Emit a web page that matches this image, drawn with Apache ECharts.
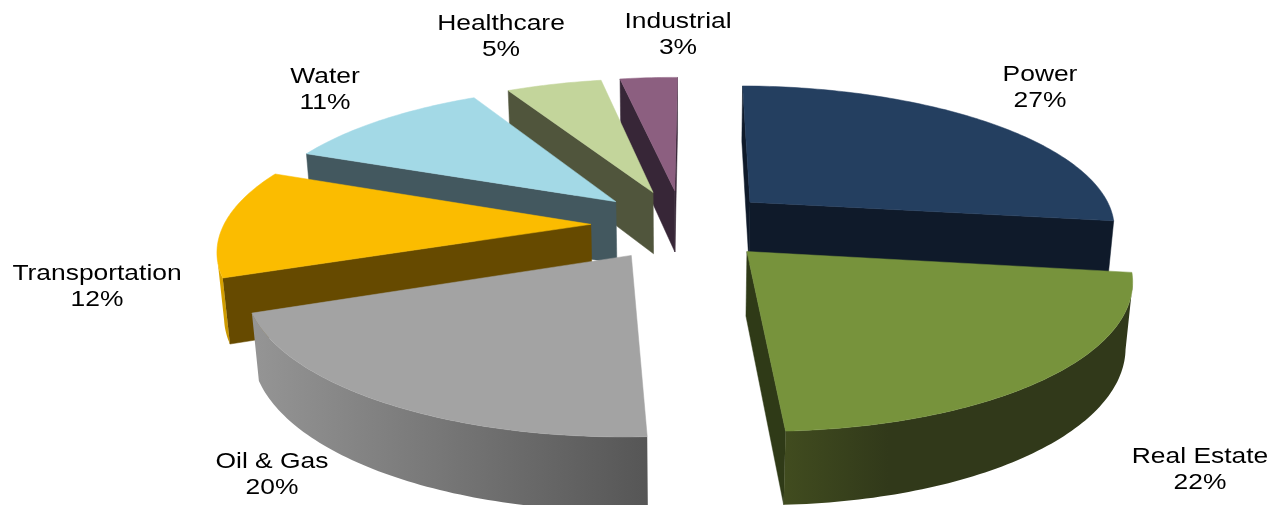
<!DOCTYPE html>
<html>
<head>
<meta charset="utf-8">
<style>html,body{margin:0;padding:0;background:#fff;overflow:hidden}#chart{width:1278px;height:505px}</style>
<script src="https://cdn.jsdelivr.net/npm/echarts@6/dist/echarts.min.js"></script>
</head>
<body>
<div id="chart"></div>
<script>
// Sector shares, clockwise from twelve o'clock
const sectors = ['Power', 'Real Estate', 'Oil & Gas', 'Transportation', 'Water', 'Healthcare', 'Industrial'];
const shares = [27, 22, 20, 12, 11, 5, 3];

// Colours per sector: top face, cut faces, rim gradient stops
const topColors = ['#243f60', '#77933c', '#a3a3a3', '#fbbc00', '#a3d9e6', '#c3d59b', '#8c5f80'];
const cutColors = ['#0f1a2a', '#2f3a17', '#5a5a5a', '#664a00', '#43585f', '#50553c', '#372637'];
const rimStops = [
  ['#0f1a2a', '#0f1a2a'], [['#414c1f', 0], ['#31391a', 0.3], ['#31391a', 1]], ['#959595', '#565656'],
  ['#e0a800', '#c49300'], ['#43585f', '#43585f'], ['#50553c', '#50553c'], ['#372637', '#372637']
];

// Label anchors in pixels (centre of the two-line block)
const labelAnchors = [[1040, 87.5], [1200, 469.5], [272, 474.5], [97, 286.5], [325, 90], [501, 37], [678, 35]];

// Back-to-front paint order
const paintOrder = [6, 5, 4, 3, 2, 0, 1];

// Camera model for the tilted, exploded pie
const CX = 682.6, CY = 224.7, FX = 367, FY = 141.5, PERSP = 0.16, SHEAR = 0.005;
const EXPLODE = 0.25, THICK = 64, THICK_PERSP = 0.015;
const CAM_Y = -1 / PERSP;
const FIRST_ANGLE = 0.6 * Math.PI / 180;

function project(X, Y, z) {
  const w = 1 + PERSP * Y + THICK_PERSP * z;
  return [CX + FX * (X - SHEAR * Y) / w, CY - (FY * Y - THICK * z) / w];
}

const total = shares.reduce((a, b) => a + b, 0);
const startShare = shares.map((_, i) => shares.slice(0, i).reduce((a, b) => a + b, 0));

function facesCamera(nx, ny, px, py) {
  return nx * (0 - px) + ny * (CAM_Y - py) > 0;
}

function renderSlice(params, api) {
  const idx = api.value(0);
  const value = api.value(1);
  const a0 = FIRST_ANGLE + startShare[idx] / total * Math.PI * 2;
  const a1 = a0 + value / total * Math.PI * 2;
  const mid = (a0 + a1) / 2;
  const ox = EXPLODE * Math.sin(mid), oy = EXPLODE * Math.cos(mid);
  const steps = Math.max(6, Math.ceil((a1 - a0) / (Math.PI / 180)));
  const arc = [];
  for (let s = 0; s <= steps; s++) {
    const t = a0 + (a1 - a0) * s / steps;
    arc.push({ t, X: ox + Math.sin(t), Y: oy + Math.cos(t) });
  }
  const first = arc[0], last = arc[arc.length - 1];
  const children = [];
  const poly = (points, fill) => children.push({
    type: 'polygon', shape: { points }, silent: true,
    style: { fill, stroke: typeof fill === 'string' ? fill : null, lineWidth: 0.5 }
  });

  // Cut faces that look towards the viewer
  const cut = (p) => [project(ox, oy, 0), project(p.X, p.Y, 0), project(p.X, p.Y, 1), project(ox, oy, 1)];
  if (facesCamera(-Math.cos(a0), Math.sin(a0), ox, oy)) poly(cut(first), cutColors[idx]);
  if (facesCamera(Math.cos(a1), -Math.sin(a1), ox, oy)) poly(cut(last), cutColors[idx]);

  // Rim: only the stretch of arc that looks towards the viewer
  const front = arc.filter(p => facesCamera(Math.sin(p.t), Math.cos(p.t), p.X, p.Y));
  if (front.length > 1) {
    const pts = front.map(p => project(p.X, p.Y, 0))
      .concat(front.slice().reverse().map(p => project(p.X, p.Y, 1)));
    const stops = rimStops[idx];
    const list = Array.isArray(stops[0])
      ? stops.map(s => ({ color: s[0], offset: s[1] }))
      : [{ color: stops[0], offset: 0 }, { color: stops[1], offset: 1 }];
    poly(pts, new echarts.graphic.LinearGradient(0, 0, 1, 0, list));
  }

  // Top face
  poly([project(ox, oy, 0)].concat(arc.map(p => project(p.X, p.Y, 0))), topColors[idx]);

  return { type: 'group', children };
}

function renderLabel(params, api) {
  const idx = api.value(0);
  const [x, y] = labelAnchors[idx];
  return {
    type: 'text', x, y, scaleX: 1.2, silent: true,
    style: {
      text: sectors[idx] + '\n' + api.value(1) + '%',
      fontFamily: 'Liberation Sans', fontSize: 22, lineHeight: 26,
      fill: '#000', align: 'center', verticalAlign: 'middle'
    }
  };
}

const rows = paintOrder.map(i => [i, shares[i]]);
const chart = echarts.init(document.getElementById('chart'), null, { renderer: 'canvas' });
chart.setOption({
  animation: false,
  backgroundColor: '#fff',
  series: [
    { type: 'custom', coordinateSystem: 'none', renderItem: renderSlice, data: rows, z: 1 },
    { type: 'custom', coordinateSystem: 'none', renderItem: renderLabel, data: rows, z: 2 }
  ]
});
</script>
</body>
</html>
